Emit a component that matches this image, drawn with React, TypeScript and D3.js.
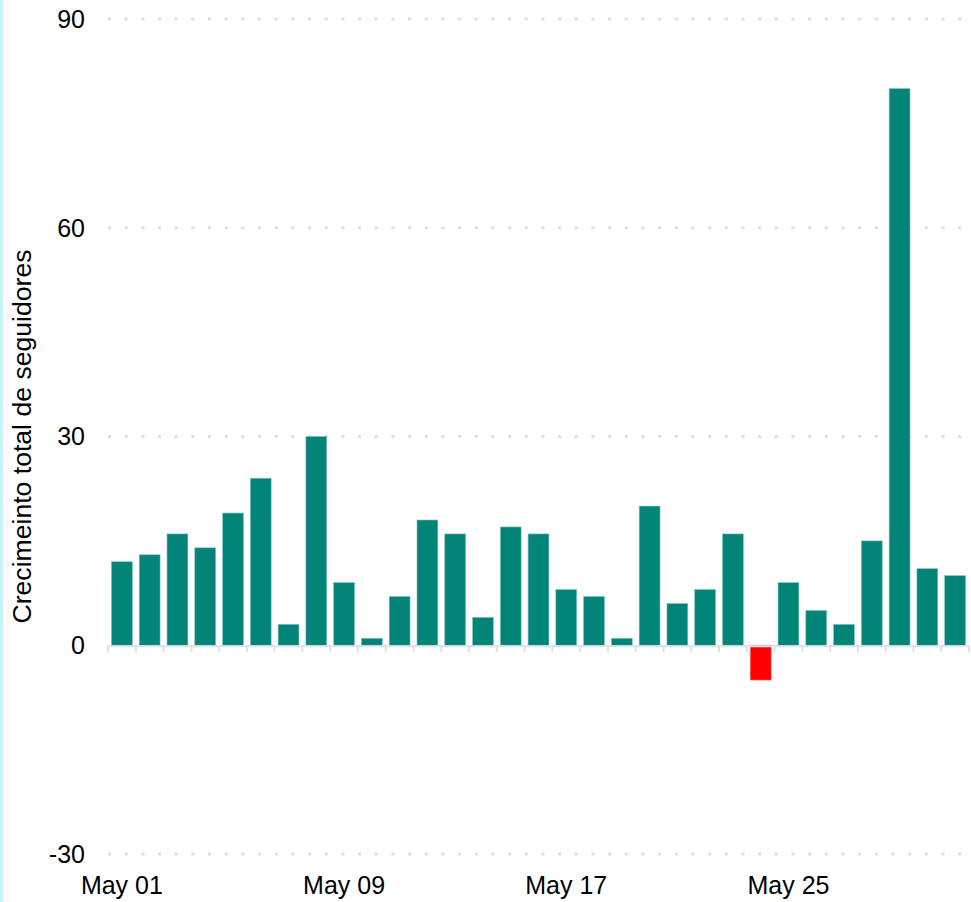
import React, { useEffect, useRef } from "react";
import * as d3 from "d3";

// datos del gráfico
const dias = d3.range(1, 32);
const crecimiento = [
  12, 13, 16, 14, 19, 24, 3, 30, 9, 1, 7, 18, 16, 4, 17, 16, 8, 7, 1, 20, 6, 8,
  16, -5, 9, 5, 3, 15, 80, 11, 10,
];
const yTicks = [-30, 0, 30, 60, 90];
const xTickDias = [1, 9, 17, 25];
const yLabel = "Crecimeinto total de seguidores";

const App = () => {
  const svgRef = useRef(null);

  const width = 971;
  const height = 902;
  const margin = { top: 19, right: 1, bottom: 48, left: 108 };

  useEffect(() => {
    const svg = d3.select(svgRef.current);
    svg.selectAll("*").remove();

    // borde izquierdo
    svg.append("rect").attr("x", 0).attr("y", 0).attr("width", 3).attr("height", height).attr("fill", "#c6f3f6");
    svg.append("rect").attr("x", 3).attr("y", 0).attr("width", 6).attr("height", height).attr("fill", "#fff6f8");

    const xScale = d3
      .scaleBand()
      .domain(dias)
      .range([margin.left, width - margin.right - 1])
      .paddingInner(0.25)
      .paddingOuter(0.125);

    const yScale = d3
      .scaleLinear()
      .domain([-30, 90])
      .range([height - margin.bottom, margin.top]);

    const step = xScale.step();
    const font = "Liberation Sans, Arial, sans-serif";

    // líneas de la cuadrícula
    svg
      .append("g")
      .selectAll("line")
      .data(yTicks.filter((d) => d !== 0))
      .enter()
      .append("line")
      .attr("x1", margin.left)
      .attr("x2", width)
      .attr("y1", (d) => yScale(d))
      .attr("y2", (d) => yScale(d))
      .attr("stroke", "#dcdfe8")
      .attr("stroke-width", 3)
      .attr("stroke-dasharray", "3 13.67");

    // etiquetas eje Y
    svg
      .append("g")
      .selectAll("text")
      .data(yTicks)
      .enter()
      .append("text")
      .attr("x", 85)
      .attr("y", (d) => yScale(d))
      .attr("dy", "0.35em")
      .attr("text-anchor", "end")
      .style("font-family", font)
      .style("font-size", "25px")
      .attr("fill", "#000")
      .text((d) => d);

    // barras
    svg
      .append("g")
      .selectAll(".bar")
      .data(crecimiento)
      .enter()
      .append("rect")
      .attr("class", "bar")
      .attr("x", (_, i) => xScale(dias[i]))
      .attr("y", (d) => yScale(Math.max(0, d)))
      .attr("width", xScale.bandwidth())
      .attr("height", (d) => Math.abs(yScale(d) - yScale(0)))
      .attr("fill", (d) => (d < 0 ? "#ff0000" : "#028478"))
      .attr("stroke", (d) => (d < 0 ? "#ff6a6a" : "#7ec3bd"))
      .attr("stroke-width", 0.6);

    // eje X
    const y0 = yScale(0);
    svg
      .append("line")
      .attr("x1", margin.left)
      .attr("x2", width - margin.right - 1)
      .attr("y1", y0 + 1)
      .attr("y2", y0 + 1)
      .attr("stroke", "#dde1ea")
      .attr("stroke-width", 2);

    svg
      .append("g")
      .selectAll("line")
      .data(d3.range(dias.length + 1))
      .enter()
      .append("line")
      .attr("x1", (i) => margin.left + i * step)
      .attr("x2", (i) => margin.left + i * step)
      .attr("y1", y0)
      .attr("y2", y0 + 7)
      .attr("stroke", "#dde1ea")
      .attr("stroke-width", 2);

    svg
      .append("g")
      .selectAll("text")
      .data(xTickDias)
      .enter()
      .append("text")
      .attr("x", (d) => xScale(d) + xScale.bandwidth() / 2)
      .attr("y", 894)
      .attr("text-anchor", "middle")
      .style("font-family", font)
      .style("font-size", "25px")
      .attr("fill", "#000")
      .text((d) => `May ${String(d).padStart(2, "0")}`);

    // título eje Y
    svg
      .append("text")
      .attr("transform", `translate(31,${(yScale(90) + yScale(-30)) / 2}) rotate(-90)`)
      .attr("text-anchor", "middle")
      .style("font-family", font)
      .style("font-size", "26.6px")
      .attr("fill", "#000")
      .text(yLabel);
  }, []);

  return (
    <svg
      ref={svgRef}
      width={width}
      height={height}
      style={{ position: "absolute", left: 0, top: 0, background: "#fff" }}
    ></svg>
  );
};

export default App;
